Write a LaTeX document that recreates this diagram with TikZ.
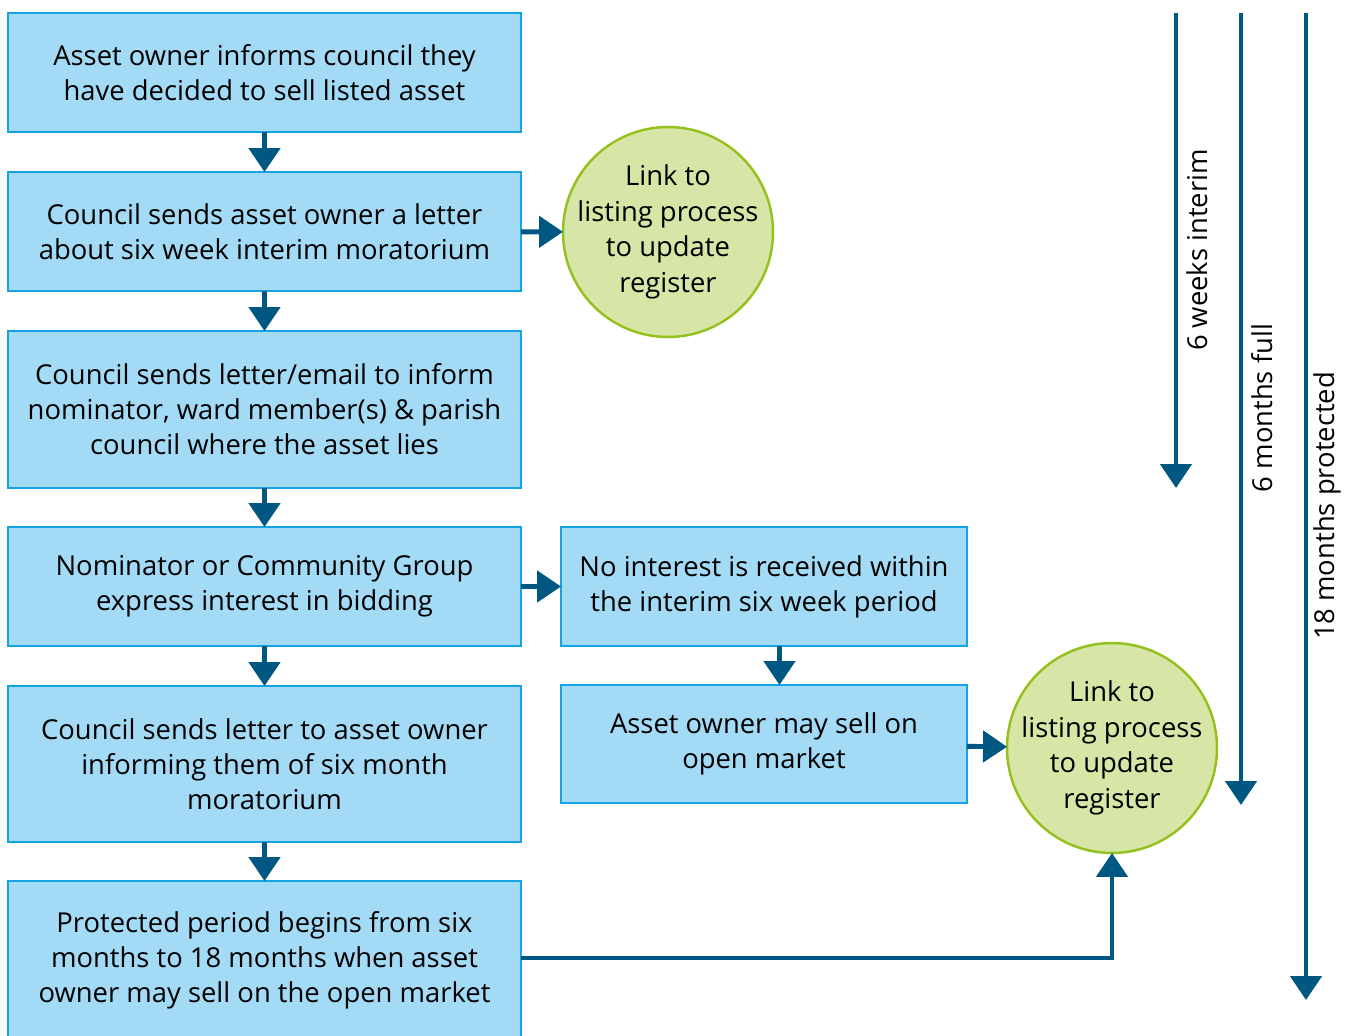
\documentclass[tikz,border=0pt]{standalone}
\usepackage{fontspec}
\setmainfont{Open Sans}
\usetikzlibrary{arrows.meta}

\definecolor{boxfill}{HTML}{A3DBF6}
\definecolor{boxline}{HTML}{14A3E3}
\definecolor{linkfill}{HTML}{D7E6A6}
\definecolor{linkline}{HTML}{94C120}
\definecolor{flowcol}{HTML}{005882}

\begin{document}
\begin{tikzpicture}[
  x=0.02cm,y=-0.02cm,
  >={Triangle[width=0.62cm,length=0.48cm]},
  block/.style={draw=boxline,fill=boxfill,line width=1.4pt,align=center,inner sep=0pt,outer sep=0pt,font=\fontsize{15.6}{20}\selectfont},
  link/.style={circle,draw=linkline,fill=linkfill,line width=1.4pt,align=center,inner sep=-0.5cm,outer sep=0pt,minimum size=4.2cm,font=\fontsize{15.6}{20.2}\selectfont},
  flow/.style={->,draw=flowcol,line width=2.8pt},
  period/.style={rotate=90,font=\fontsize{15.6}{20}\selectfont},
]
  \useasboundingbox (0,0) rectangle (1356,1035);
  \begin{scope}
  \clip (0,0) rectangle (1356,1035);
  \node[block,minimum width=10.26cm,minimum height=2.38cm] (informs) at (264.5,72.5) {Asset owner informs council they\\have decided to sell listed asset};
  \node[block,minimum width=10.26cm,minimum height=2.38cm] (interim) at (264.5,231.5) {Council sends asset owner a letter\\about six week interim moratorium};
  \node[block,minimum width=10.26cm,minimum height=3.14cm] (nominator) at (264.5,409.5) {Council sends letter/email to inform\\nominator, ward member(s) \& parish\\council where the asset lies};
  \node[block,minimum width=10.26cm,minimum height=2.38cm] (interest) at (264.5,586.5) {Nominator or Community Group\\express interest in bidding};
  \node[block,minimum width=10.26cm,minimum height=3.12cm] (sixmonth) at (264.5,764) {Council sends letter to asset owner\\informing them of six month\\moratorium};
  \node[block,minimum width=10.26cm,minimum height=3.18cm] (protected) at (264.5,960.5) {Protected period begins from six\\months to 18 months when asset\\owner may sell on the open market};
  \end{scope}
  \node[block,minimum width=8.12cm,minimum height=2.38cm] (nointerest) at (764,586.5) {No interest is received within\\the interim six week period};
  \node[block,minimum width=8.12cm,minimum height=2.36cm] (maysell) at (764,744) {Asset owner may sell on\\open market};

  \node[link] (linkA) at (668,232) {Link to\\listing process\\to update\\register};
  \node[link] (linkB) at (1112,748) {Link to\\listing process\\to update\\register};

  \foreach \a/\b in {informs/interim,interim/nominator,nominator/interest,interest/sixmonth,sixmonth/protected,interim/linkA,interest/nointerest,maysell/linkB}
    \draw[flow] (\a) -- (\b);
  \draw[flow] ([xshift=0.31cm]nointerest.south) -- ([xshift=0.31cm]maysell.north);
  \draw[flow] (protected.east |- 0,958) -| (linkB.south);

  % timeline
  \foreach \n/\x/\y in {weeks/1176/488,full/1241/805,prot/1306/1000}{
    \coordinate (\n top) at (\x,13);
    \coordinate (\n end) at (\x,\y);
    \draw[flow] (\n top) -- (\n end);
  }
  \node[period] (weekslab) at (1197,250) {6 weeks interim};
  \node[period] (fulllab) at (1262,408) {6 months full};
  \node[period] (protlab) at (1327,506) {18 months protected};
\end{tikzpicture}
\end{document}
